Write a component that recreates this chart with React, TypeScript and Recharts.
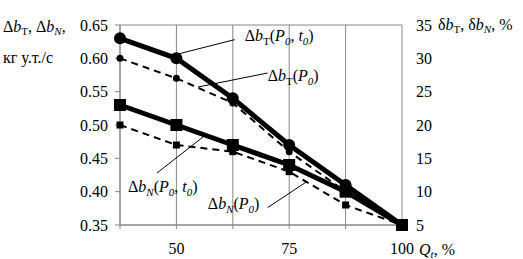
import React from "react";
import { LineChart, Line, XAxis, YAxis, CartesianGrid, ReferenceLine, ReferenceDot } from "recharts";

// load, % of nominal
const loads = [37.5, 50, 62.5, 75, 87.5, 100];
const xTickShown = [50, 75, 100];
const leftTicks = [0.35, 0.4, 0.45, 0.5, 0.55, 0.6, 0.65];
const rightTicks = [5, 10, 15, 20, 25, 30, 35];

// kg c.e./s
const dbT_P0t0 = [0.63, 0.6, 0.54, 0.47, 0.41, 0.35];
const dbT_P0 = [0.6, 0.57, 0.533, 0.46, 0.4, 0.35];
const dbN_P0t0 = [0.53, 0.5, 0.47, 0.44, 0.4, 0.35];
const dbN_P0 = [0.5, 0.47, 0.46, 0.43, 0.38, 0.35];

const data = loads.map((q, i) => ({
  q,
  tFull: dbT_P0t0[i],
  tP: dbT_P0[i],
  nFull: dbN_P0t0[i],
  nP: dbN_P0[i],
}));

// leader lines for the curve captions, in data units
const leaders = [
  { from: [50.1, 0.606], to: [62.9, 0.628] },
  { from: [54.8, 0.557], to: [70.2, 0.578] },
  { from: [45.7, 0.428], to: [55.9, 0.482] },
  { from: [70.2, 0.376], to: [78.9, 0.415] },
];
const captions = [
  { x: 65.15, y: 0.626, sub: "T", subItalic: false, args: true },
  { x: 70.24, y: 0.566, sub: "T", subItalic: false, args: false },
  { x: 39.27, y: 0.4, sub: "N", subItalic: true, args: true },
  { x: 56.97, y: 0.374, sub: "N", subItalic: true, args: false },
];

const FONT = "Liberation Serif, Times New Roman, serif";
const GRID = "#878787";

const Caption = (props: any) => {
  const { cx, cy, c } = props;
  return (
    <text x={cx} y={cy} fontFamily={FONT} fontSize={16} fill="#000">
      Δ<tspan fontStyle="italic">b</tspan>
      <tspan fontSize={11} dy={4} fontStyle={c.subItalic ? "italic" : "normal"}>{c.sub}</tspan>
      <tspan dy={-4}>(</tspan>
      <tspan fontStyle="italic">P</tspan>
      <tspan fontSize={11} dy={4} fontStyle="italic">0</tspan>
      {c.args ? (
        <>
          <tspan dy={-4}>, </tspan>
          <tspan fontStyle="italic">t</tspan>
          <tspan fontSize={11} dy={4} fontStyle="italic">0</tspan>
          <tspan dy={-4}>)</tspan>
        </>
      ) : (
        <tspan dy={-4}>)</tspan>
      )}
    </text>
  );
};

const BigSquare = (props: any) => {
  const { cx, cy, index } = props;
  return <rect key={"bs" + index} x={cx - 6} y={cy - 6} width={12} height={12} fill="#000" />;
};
const SmallSquare = (props: any) => {
  const { cx, cy, index } = props;
  return <rect key={"ss" + index} x={cx - 3.5} y={cy - 3.5} width={7} height={7} fill="#000" />;
};

const App = () => {
  return (
    <div style={{ position: "absolute", left: 0, top: 0, width: 523, height: 259, background: "#fff" }}>
      <LineChart width={523} height={259} data={data} margin={{ top: 25, right: 0, left: 0, bottom: 0 }}>
        <CartesianGrid stroke={GRID} strokeWidth={1} />
        <XAxis
          dataKey="q"
          type="number"
          domain={[37.5, 100]}
          ticks={loads}
          height={34}
          tickSize={4}
          tickMargin={14}
          stroke={GRID}
          tick={{ fill: "#000", fontSize: 16, fontFamily: FONT }}
          tickFormatter={(v: number) => (xTickShown.includes(v) ? String(v) : "")}
        />
        <YAxis
          yAxisId="left"
          domain={[0.35, 0.65]}
          ticks={leftTicks}
          width={120}
          tickSize={5}
          tickMargin={7}
          stroke={GRID}
          tick={{ fill: "#000", fontSize: 16, fontFamily: FONT }}
          tickFormatter={(v: number) => v.toFixed(2)}
        />
        <YAxis
          yAxisId="right"
          orientation="right"
          domain={[5, 35]}
          allowDataOverflow
          ticks={rightTicks}
          width={121}
          axisLine={false}
          tickLine={false}
          tickSize={5}
          tickMargin={9}
          tick={{ fill: "#000", fontSize: 16, fontFamily: FONT }}
        />
        {/* empty series so the percent axis gets drawn */}
        <Line yAxisId="right" dataKey="pct" stroke="none" dot={false} legendType="none" isAnimationActive={false} />
        <Line yAxisId="left" dataKey="tP" stroke="#000" strokeWidth={2} strokeDasharray="7 5"
          dot={{ r: 3.5, fill: "#000", stroke: "#000", strokeWidth: 0 }} isAnimationActive={false} />
        <Line yAxisId="left" dataKey="nP" stroke="#000" strokeWidth={2} strokeDasharray="7 5"
          dot={SmallSquare} isAnimationActive={false} />
        <Line yAxisId="left" dataKey="tFull" stroke="#000" strokeWidth={5}
          dot={{ r: 6, fill: "#000", stroke: "#000", strokeWidth: 0 }} isAnimationActive={false} />
        <Line yAxisId="left" dataKey="nFull" stroke="#000" strokeWidth={5}
          dot={BigSquare} isAnimationActive={false} />
        {leaders.map((l, i) => (
          <ReferenceLine key={"ld" + i} yAxisId="left" stroke="#000" strokeWidth={1}
            segment={[{ x: l.from[0], y: l.from[1] }, { x: l.to[0], y: l.to[1] }]} />
        ))}
        {captions.map((c, i) => (
          <ReferenceDot key={"cp" + i} yAxisId="left" x={c.x} y={c.y} r={0}
            shape={(p: any) => <Caption {...p} c={c} />} />
        ))}
      </LineChart>
      <svg width={523} height={259} style={{ position: "absolute", left: 0, top: 0, pointerEvents: "none" }}
        fontFamily={FONT} fontSize={16} fill="#000">
        <text x={3} y={32}>
          Δ<tspan fontStyle="italic">b</tspan><tspan fontSize={11} dy={3}>T</tspan>
          <tspan dy={-3}>, Δ</tspan><tspan fontStyle="italic">b</tspan>
          <tspan fontSize={11} dy={3} fontStyle="italic">N</tspan><tspan dy={-3}>,</tspan>
        </text>
        <text x={3} y={63}>кг у.т./с</text>
        <text x={438} y={30}>
          δ<tspan fontStyle="italic">b</tspan><tspan fontSize={11} dy={3}>T</tspan>
          <tspan dy={-3}>, δ</tspan><tspan fontStyle="italic">b</tspan>
          <tspan fontSize={11} dy={3} fontStyle="italic">N</tspan><tspan dy={-3}>, %</tspan>
        </text>
        <text x={419} y={255}>
          <tspan fontStyle="italic">Q</tspan><tspan fontSize={11} dy={3} fontStyle="italic">t</tspan>
          <tspan dy={-3}>, %</tspan>
        </text>
      </svg>
    </div>
  );
};

export default App;
